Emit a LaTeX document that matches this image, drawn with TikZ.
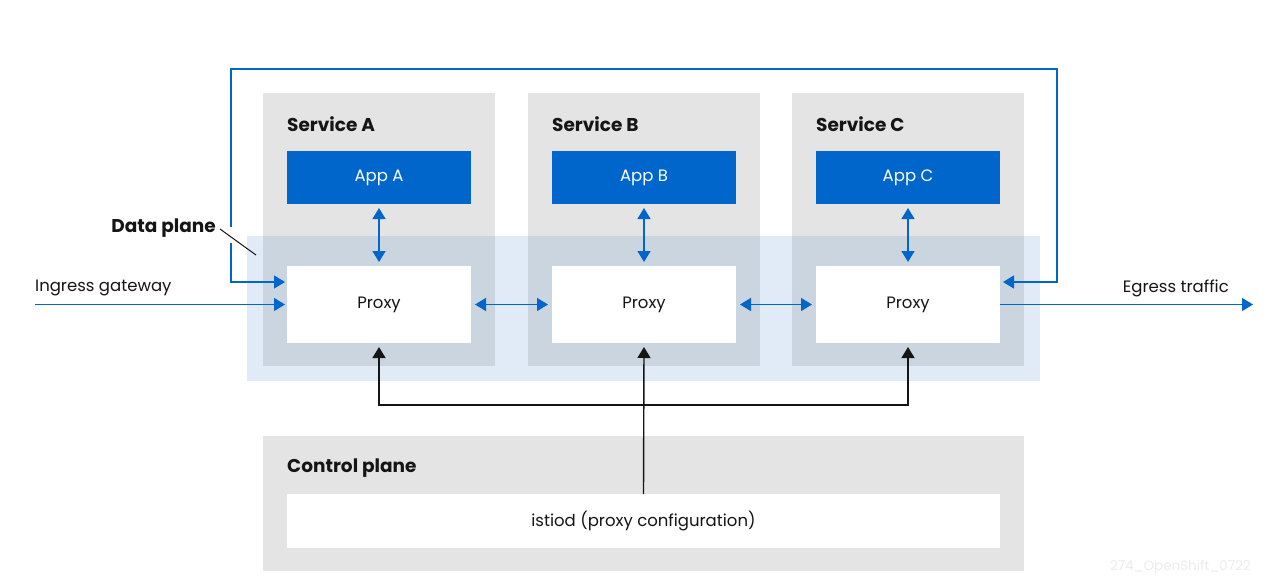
\documentclass[tikz,border=0pt]{standalone}
\usepackage{fontspec}
\setmainfont{Poppins}
\usetikzlibrary{arrows.meta}
\definecolor{rhblue}{HTML}{0066CC}
\definecolor{svcgray}{HTML}{E4E4E4}
\definecolor{dpblue}{HTML}{E0EBF7}
\definecolor{ovl}{HTML}{CBD5DF}
\definecolor{txt}{HTML}{151515}
\definecolor{wm}{HTML}{ECECEC}
\tikzset{
  svcbox/.style={fill=svcgray, draw=none, minimum width=232pt, minimum height=273pt, inner sep=0pt, outer sep=0pt},
  appbox/.style={fill=rhblue, draw=none, text=white, minimum width=184pt, minimum height=53pt, inner sep=0pt, outer sep=0pt, font=\fontsize{16.5}{19}\selectfont},
  proxybox/.style={fill=white, draw=none, text=txt, minimum width=184pt, minimum height=77pt, inner sep=0pt, outer sep=0pt, font=\fontsize{16.5}{19}\selectfont},
  title/.style={anchor=west, text=txt, inner sep=0pt, font=\fontsize{18.5}{21}\selectfont\bfseries},
  plain/.style={text=txt, inner sep=0pt, font=\fontsize{16.5}{19}\selectfont},
  barrow/.style={draw=rhblue, line width=1.4pt, -{Triangle[length=11pt,width=13pt]}},
  bboth/.style={draw=rhblue, line width=1.4pt, {Triangle[length=11pt,width=13pt]}-{Triangle[length=11pt,width=13pt]}},
  karrow/.style={draw=txt, line width=1.4pt, -{Triangle[length=11pt,width=13pt]}},
  kboth/.style={draw=txt, line width=1.4pt, {Triangle[length=11pt,width=13pt]}-{Triangle[length=11pt,width=13pt]}},
}
\begin{document}
\begin{tikzpicture}[x=1pt, y=-1pt]
\useasboundingbox (0,0) rectangle (1271,581);
\fill[white] (0,0) rectangle (1271,581);
% data plane band
\fill[dpblue] (247,236) rectangle (1040,381);
% services
\node[svcbox] (svcA) at (379,229.5) {};
\node[svcbox] (svcB) at (644,229.5) {};
\node[svcbox] (svcC) at (908,229.5) {};
\fill[ovl] (263,236) rectangle (495,366);
\fill[ovl] (528,236) rectangle (760,366);
\fill[ovl] (792,236) rectangle (1024,366);
\node[title] (tA) at (287,124) {Service A};
\node[title] (tB) at (552,124) {Service B};
\node[title] (tC) at (816,124) {Service C};
% apps
\node[appbox] (appA) at (379,177.5) {\raisebox{-1.5pt}{App A}};
\node[appbox] (appB) at (644,177.5) {\raisebox{-1.5pt}{App B}};
\node[appbox] (appC) at (908,177.5) {\raisebox{-1.5pt}{App C}};
% proxies
\node[proxybox] (proxyA) at (379,304.5) {\raisebox{-1.5pt}{Proxy}};
\node[proxybox] (proxyB) at (644,304.5) {\raisebox{-1.5pt}{Proxy}};
\node[proxybox] (proxyC) at (908,304.5) {\raisebox{-1.5pt}{Proxy}};
% control plane
\node[svcbox, minimum width=761pt, minimum height=135pt] (cp) at (643.5,503.5) {};
\node[title] (tcp) at (287,468) {Control plane};
\node[proxybox, minimum width=713pt, minimum height=54pt] (istiod) at (643.5,521) {\raisebox{-1.5pt}{istiod (proxy configuration)}};
% app <-> proxy
\draw[bboth] ([yshift=-4pt]appA.south) -- ([yshift=4pt]proxyA.north);
\draw[bboth] ([yshift=-4pt]appB.south) -- ([yshift=4pt]proxyB.north);
\draw[bboth] ([yshift=-4pt]appC.south) -- ([yshift=4pt]proxyC.north);
% proxy <-> proxy
\draw[bboth] ([xshift=4pt]proxyA.east) -- ([xshift=-4pt]proxyB.west);
\draw[bboth] ([xshift=4pt]proxyB.east) -- ([xshift=-4pt]proxyC.west);
% outer loop
\coordinate (tl) at (231,69);
\coordinate (tr) at (1057,69);
\draw[bboth] ([xshift=-2pt,yshift=22.5pt]proxyA.west) -| (tl) -- (tr) |- ([xshift=3pt,yshift=22.5pt]proxyC.east);
% data plane label and leader
\fill[white] (228,227) rectangle (234,243);
\node[title, anchor=east] (dpl) at (216,228) {Data plane};
\coordinate (dpend) at (256,255);
\draw[txt, line width=1pt] ([xshift=4pt,yshift=-1pt]dpl.east) -- (dpend);
% ingress / egress
\coordinate (ing) at (35,304.5);
\coordinate (egr) at (1253,304.5);
\draw[barrow] (ing) -- ([xshift=-2pt]proxyA.west);
\draw[barrow] (proxyC.east) -- (egr);
\node[plain, anchor=west] (ingl) at (35,288) {Ingress gateway};
\node[plain, anchor=east] (egrl) at (1229,288) {Egress traffic};
% control arrows
\draw[karrow] (istiod.north) -- ([yshift=-4pt]proxyB.south);
\draw[kboth] ([yshift=-4pt]proxyA.south) -- ++(0,58) -| ([yshift=-4pt]proxyC.south);
% watermark
\node[plain, text=wm, anchor=east, font=\fontsize{13.5}{15}\selectfont] (wmk) at (1251,567) {274\_OpenShift\_0722};
\end{tikzpicture}
\end{document}
